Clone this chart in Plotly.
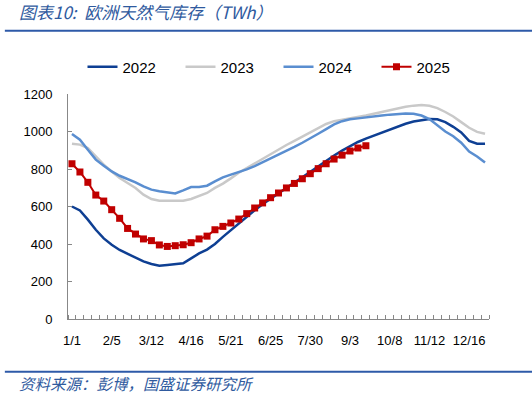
import plotly.graph_objects as go

# ---- data (TWh, weekly from 1/1) ----
week_index = list(range(53))
tick_pos = [0, 5, 10, 15, 20, 25, 30, 35, 40, 45, 50]
tick_labels = ["1/1", "2/5", "3/12", "4/16", "5/21", "6/25", "7/30", "9/3", "10/8", "11/12", "12/16"]

s2022 = [600, 579, 530, 476, 430, 396, 368, 347, 329, 307, 293, 284, 288, 291, 297, 323, 350, 370,
         400, 438, 474, 510, 546, 580, 612, 642, 671, 700, 728, 756, 785, 815, 845, 872, 898, 922,
         944, 962, 978, 996, 1012, 1027, 1041, 1053, 1062, 1067, 1065, 1050, 1025, 995, 950, 935, 935]
s2023 = [935, 930, 912, 867, 823, 787, 752, 725, 699, 663, 640, 631, 631, 631, 631, 640, 654, 672,
         699, 722, 750, 780, 805, 830, 856, 880, 905, 928, 950, 972, 995, 1018, 1040, 1055, 1062, 1068,
         1075, 1085, 1095, 1105, 1114, 1124, 1132, 1138, 1141, 1137, 1125, 1104, 1080, 1050, 1020, 998, 988]
s2024 = [987, 956, 903, 850, 818, 787, 764, 747, 729, 707, 690, 681, 675, 670, 686, 704, 704, 711,
         734, 755, 770, 782, 798, 815, 835, 855, 874, 895, 918, 940, 962, 988, 1013, 1038, 1055, 1065,
         1070, 1076, 1081, 1085, 1090, 1093, 1096, 1095, 1085, 1066, 1035, 1000, 975, 940, 893, 867, 835]
s2025 = [828, 784, 729, 661, 629, 583, 537, 483, 453, 427, 418, 395, 387, 391, 396, 407, 427, 442,
         476, 494, 512, 533, 562, 592, 619, 647, 672, 699, 723, 748, 775, 802, 828, 853, 874, 896, 912, 924]

series_names = ["2022", "2023", "2024", "2025"]
colors = ["#0E3F93", "#C9C9C9", "#5A8ED0", "#C00000"]

fig = go.Figure()
for name, vals, col in zip(series_names[:3], [s2022, s2023, s2024], colors[:3]):
    fig.add_trace(go.Scatter(x=week_index[:len(vals)], y=vals, name=name, mode="lines",
                             line=dict(color=col, width=2.5)))
fig.add_trace(go.Scatter(x=week_index[:len(s2025)], y=s2025, name="2025", mode="lines+markers",
                         line=dict(color=colors[3], width=2),
                         marker=dict(symbol="square", size=7, color=colors[3])))

title_color = "#2F5A9E"
fig.update_layout(
    width=532, height=397,
    margin=dict(l=68, r=43, t=94, b=78),
    paper_bgcolor="white", plot_bgcolor="white",
    font=dict(family="Liberation Sans, Arial, sans-serif", size=13, color="#000000"),
    showlegend=True,
    legend=dict(orientation="h", x=0.50, xanchor="center", y=1.12, yanchor="middle",
                font=dict(size=15, color="#000000"), entrywidth=53, bgcolor="rgba(0,0,0,0)"),
    xaxis=dict(range=[-0.5, 52.5], tickmode="array", tickvals=tick_pos, ticktext=tick_labels,
               ticks="", showgrid=False, zeroline=False, showline=True, linecolor="#888888",
               linewidth=1, ticklabelstandoff=9,
               minor=dict(tickmode="linear", tick0=0.5, dtick=1, ticks="inside", ticklen=4,
                          tickcolor="#888888", showgrid=False)),
    yaxis=dict(range=[0, 1200], tickmode="linear", tick0=0, dtick=200, ticks="inside",
               ticklen=4, tickcolor="#888888", showgrid=False, zeroline=False, showline=True,
               linecolor="#888888", linewidth=1, ticklabelstandoff=12),
    annotations=[
        dict(text="图表10:  欧洲天然气库存（TWh）", xref="paper", yref="paper",
             x=-0.12, y=1.366, xanchor="left", yanchor="middle", showarrow=False,
             font=dict(family="Noto Sans CJK SC", size=17, color=title_color, style="italic")),
        dict(text="资料来源：彭博，国盛证券研究所", xref="paper", yref="paper",
             x=-0.12, y=-0.285, xanchor="left", yanchor="middle", showarrow=False,
             font=dict(family="Noto Sans CJK SC", size=15.5, color=title_color, style="italic")),
    ],
    shapes=[
        dict(type="line", xref="paper", yref="paper", x0=-0.15, x1=1.103, y0=1.281, y1=1.281,
             line=dict(color="#2E5AA8", width=2)),
        dict(type="line", xref="paper", yref="paper", x0=-0.15, x1=1.103, y0=-0.234, y1=-0.234,
             line=dict(color="#2E5AA8", width=2)),
    ],
)

fig.write_html("out.html", config={"displayModeBar": False},
               post_script="document.body.style.margin='0';")
